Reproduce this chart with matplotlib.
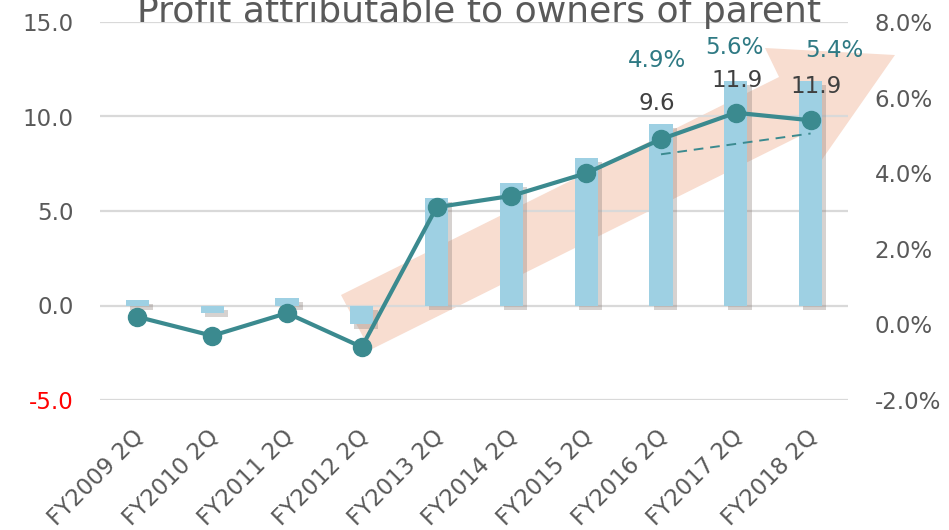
import numpy as np
import matplotlib
matplotlib.use("Agg")
import matplotlib.pyplot as plt
import matplotlib.patheffects as pe
from matplotlib.patches import Polygon
from matplotlib.transforms import ScaledTranslation

# Data
periods = ["FY2009 2Q", "FY2010 2Q", "FY2011 2Q", "FY2012 2Q", "FY2013 2Q",
           "FY2014 2Q", "FY2015 2Q", "FY2016 2Q", "FY2017 2Q", "FY2018 2Q"]
profit = [0.3, -0.4, 0.4, -1.0, 5.7, 6.5, 7.8, 9.6, 11.9, 11.9]      # left axis
margin = [0.2, -0.3, 0.3, -0.6, 3.1, 3.4, 4.0, 4.9, 5.6, 5.4]        # right axis, %
trend_periods = ["FY2016 2Q", "FY2018 2Q"]
trend_margin = [4.5, 5.05]
labelled = ["FY2016 2Q", "FY2017 2Q", "FY2018 2Q"]

left_ticks = [-5.0, 0.0, 5.0, 10.0, 15.0]
right_ticks = [-2.0, 0.0, 2.0, 4.0, 6.0, 8.0]

# label nudges (points) for the hand-placed data labels
bar_lbl_off = [(-3, 15), (1, 0), (4, -4)]
pct_lbl_off = [(-3, 57), (-1, 47), (17, 50)]

GRAY = "#595959"
TEAL = "#3B8A8F"
TEAL_TXT = "#2F7A84"
BLUE = "#9ED0E3"
PEACH = "#F8DDD0"
FS = 16.5

fig = plt.figure(figsize=(9.49, 5.30), dpi=100)
ax = fig.add_axes([100 / 949, 130 / 530, 748 / 949, 378 / 530])
ax2 = ax.twinx()

x = np.arange(len(periods))

# big background arrow (axes fraction coords)
arrow = Polygon([(0.3222, 0.2778), (0.9078, 0.8545), (0.8890, 0.9312),
                 (1.0628, 0.9127), (0.9639, 0.6323), (0.9465, 0.7090),
                 (0.3610, 0.1323)], closed=True, transform=ax.transAxes,
                facecolor=PEACH, edgecolor="none", clip_on=False, zorder=0)
ax.add_patch(arrow)

# gridlines
for t in left_ticks:
    ax.axhline(t, color="#D9D9D9", lw=1.6, zorder=0.5)

bars = ax.bar(x, profit, width=0.31, color=BLUE, zorder=2)
for b in bars:
    b.set_path_effects([pe.SimplePatchShadow(offset=(3, -3), shadow_rgbFace="#8c7f7a", alpha=0.35),
                        pe.Normal()])

ax.set_xlim(-0.5, len(periods) - 0.5)
ax.set_ylim(-5, 15)
ax.set_yticks(left_ticks)
ax.set_yticklabels([f"{t:.1f}" for t in left_ticks])
ax.tick_params(axis="y", length=0, pad=19, labelsize=FS, labelcolor=GRAY)
ax.get_yticklabels()[0].set_color("red")

ax.set_xticks(x)
ax.set_xticklabels(periods, rotation=45, ha="right", va="center",
                   rotation_mode="anchor", fontsize=FS, color=GRAY)
ax.tick_params(axis="x", length=0, pad=0)
off = ScaledTranslation(0.03, -0.33, fig.dpi_scale_trans)
for lbl in ax.get_xticklabels():
    lbl.set_transform(lbl.get_transform() + off)

# margin line on right axis
ax2.plot(x, margin, color=TEAL, lw=3, marker="o", markersize=13, zorder=3)
tx = [periods.index(p) for p in trend_periods]
ax2.plot(tx, trend_margin, color=TEAL, lw=1.4, ls=(0, (5, 3.5)), zorder=3)
ax2.set_ylim(-2, 8)
ax2.set_yticks(right_ticks)
ax2.set_yticklabels([f"{t:.1f}%" for t in right_ticks])
ax2.tick_params(axis="y", length=0, pad=19, labelsize=FS, labelcolor=GRAY)

for a in (ax, ax2):
    for s in a.spines.values():
        s.set_visible(False)

# data labels
for p, (dx, dy), (pdx, pdy) in zip(labelled, bar_lbl_off, pct_lbl_off):
    i = periods.index(p)
    ax.annotate(f"{profit[i]:.1f}", (i, profit[i]), xytext=(dx, dy),
                textcoords="offset points", ha="center", va="center",
                fontsize=FS, color="#404040", zorder=5)
    ax2.annotate(f"{margin[i]:.1f}%", (i, margin[i]), xytext=(pdx, pdy),
                 textcoords="offset points", ha="center", va="center",
                 fontsize=FS, color=TEAL_TXT, zorder=5)

fig.text(479 / 949, 508 / 530, "Profit attributable to owners of parent",
         ha="center", va="baseline", fontsize=26, color=GRAY)

fig.savefig("out.png", dpi=100)
